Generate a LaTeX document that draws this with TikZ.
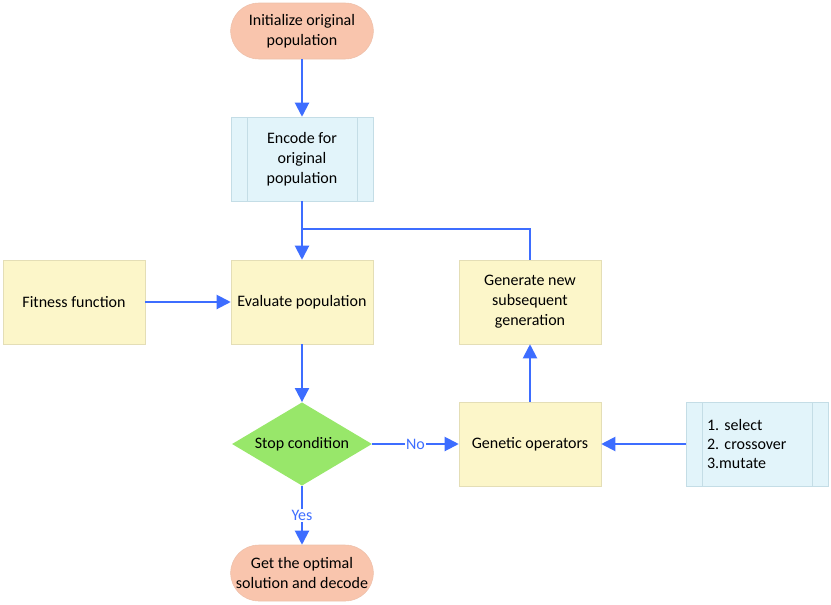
\documentclass[tikz,border=0pt]{standalone}
\usepackage{fontspec}
\setmainfont{Carlito}
\frenchspacing
\usetikzlibrary{shapes.geometric,arrows.meta}
\definecolor{flowblue}{HTML}{3D6DFF}
\definecolor{termfill}{HTML}{F9C5AD}
\definecolor{termline}{HTML}{EDC0AA}
\definecolor{procfill}{HTML}{FCF6C9}
\definecolor{procline}{HTML}{E4DEB6}
\definecolor{predfill}{HTML}{E2F4FA}
\definecolor{predline}{HTML}{C4DDE6}
\definecolor{decfill}{HTML}{98E76A}
\tikzset{
  term/.style={draw=termline,fill=termfill,rounded corners=21pt,minimum width=107pt,minimum height=42pt,align=center,inner sep=1pt},
  proc/.style={draw=procline,fill=procfill,minimum width=106.5pt,minimum height=63pt,align=center,inner sep=2pt},
  predef/.style={draw=predline,fill=predfill,minimum width=106.5pt,minimum height=63pt,inner sep=2pt,
    path picture={\draw[predline]
      ([xshift=12pt]path picture bounding box.north west) -- ([xshift=12pt]path picture bounding box.south west)
      ([xshift=-12pt]path picture bounding box.north east) -- ([xshift=-12pt]path picture bounding box.south east);}},
  decision/.style={diamond,aspect=1.68,fill=decfill,minimum width=105pt,minimum height=62.5pt,inner sep=0pt},
  flow/.style={draw=flowblue,line width=1.5pt,-{Triangle[length=10.5pt,width=10.5pt]}},
  flowline/.style={draw=flowblue,line width=1.5pt},
  answer/.style={fill=white,text=flowblue,inner sep=1pt}
}
\begin{document}
\begin{tikzpicture}[x=0.75pt,y=-0.75pt,font=\fontsize{12pt}{15pt}\selectfont]
      \useasboundingbox (0,0) rectangle (831,604);
      \node[term] (init) at (302,31) {Initialize original\\population};
      \node[predef,align=center] (encode) at (302,159) {Encode for\\original\\population};
      \def \Boxes{
        fitness/74/302/{Fitness function},
        eval/302/302/{Evaluate population},
        gennew/530/302/{Generate new\\subsequent\\generation},
        genop/530/444/{Genetic operators}}
      \foreach \id / \x / \y / \t in \Boxes{
        \node[proc] (\id) at (\x, \y) {\t};
      }
      \node[decision] (stop) at (302,444) {Stop condition};
      \node[predef,align=left,text width=75pt,inner xsep=15.75pt,font=\fontsize{12pt}{14.25pt}\selectfont] (ops) at (757,444) {1. select\\2. crossover\\3.mutate};
      \node[term] (result) at (302,573) {Get the optimal\\solution and decode};
      \coordinate (join) at (302,229);
      \def \Edges{
        init/encode,
        encode/eval,
        fitness/eval,
        eval/stop,
        genop/gennew,
        ops/genop}
      \foreach \a / \b in \Edges{
        \path[flow] (\a) -- (\b);
      }
      \path[flowline] (gennew.north) |- (join);
      \path[flow] (stop) -- node[answer] {No} (genop);
      \path[flow] (stop) -- node[answer] {Yes} (result);
    \end{tikzpicture}
\end{document}
